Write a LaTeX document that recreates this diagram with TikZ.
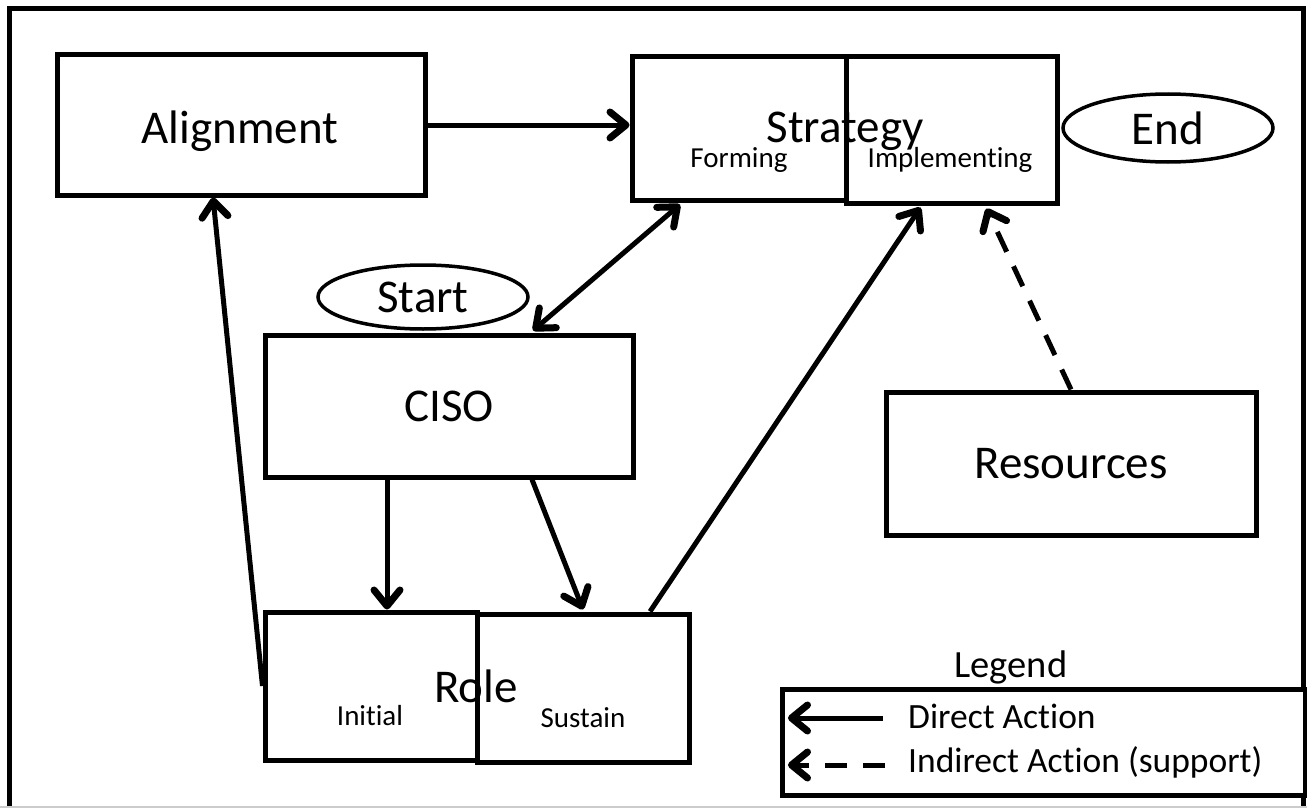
\documentclass[tikz,border=0pt]{standalone}
\usepackage{fontspec}
\setmainfont{Carlito}[Ligatures={NoCommon,NoContextual}]
\usetikzlibrary{arrows.meta,shapes.geometric,calc}

\begin{document}
\begin{tikzpicture}[x=1pt,y=-1pt,>={Straight Barb[length=16pt,width=26pt,line width=7pt,round]}]

    \tikzset{
      box/.style={
        draw,
        line width=5pt,
        fill=white,
        inner sep=0pt,
        anchor=center,
      },
      oval/.style={
        draw,
        ellipse,
        line width=3.5pt,
        inner sep=0pt,
      },
      bigtext/.style={font=\fontsize{47}{56}\selectfont,inner sep=0pt},
      smalltext/.style={font=\fontsize{29}{34}\selectfont,inner sep=0pt},
      legtext/.style={font=\fontsize{35.5}{42}\selectfont,inner sep=0pt},
      direct/.style={line width=5pt},
      indirect/.style={line width=5pt,dash pattern=on 22pt off 16pt},
    }
    \useasboundingbox (0,0) rectangle (1307,808);
    % frame
    \draw[line width=5pt] (9,808) -- (9,9) -- (1303,9) -- (1303,808);
    \draw[gray!40,line width=1.5pt] (0,807) -- (1307,807);

    % boxes
    \node[box,minimum width=368pt,minimum height=140pt] (align) at (241,125) {};
    \node[bigtext,anchor=base] (alignlbl) at (240,143) {Alignment};
    \node[box,minimum width=214pt,minimum height=143pt] (stratform) at (739,128.5) {};
    \node[box,minimum width=211pt,minimum height=146pt] (stratimpl) at (951.5,130) {};
    \node[bigtext,anchor=base] (stratlbl) at (845,142) {Strategy};
    \node[smalltext,anchor=base] (formlbl) at (739,167) {Forming};
    \node[smalltext,anchor=base] (impllbl) at (950,167) {Implementing};
    \node[oval,minimum width=210pt,minimum height=68pt,bigtext] (endnode) at (1168,128) {End};
    \node[oval,minimum width=210pt,minimum height=64pt,bigtext] (startnode) at (423,297) {Start};
    \node[box,minimum width=368pt,minimum height=142pt,bigtext] (ciso) at (449,406) {CISO};
    \node[box,minimum width=370pt,minimum height=143pt,bigtext] (res) at (1071,463.5) {Resources};
    \node[box,minimum width=212pt,minimum height=148pt] (roleinit) at (371,686) {};
    \node[box,minimum width=212pt,minimum height=148pt] (rolesus) at (583,688) {};
    \node[bigtext,anchor=base] (rolelbl) at (476,702) {Role};
    \node[smalltext,anchor=base] (initlbl) at (370,725) {Initial};
    \node[smalltext,anchor=base] (suslbl) at (583,727) {Sustain};

    % legend
    \node[box,minimum width=523pt,minimum height=106pt] (legbox) at (1043.5,742) {};
    \node[legtext,font=\fontsize{38.5}{46}\selectfont,anchor=base] (leglbl) at (1011,677) {Legend};
    \node[legtext,anchor=base west] (dirlbl) at (908,728) {Direct Action};
    \node[legtext,anchor=base west] (indlbl) at (908,772) {Indirect Action (support)};
    \coordinate (dirtail) at (883,718);
    \coordinate (dirhead) at (788,718);
    \coordinate (indtail) at (885,765);
    \coordinate (indhead) at (788,765);
    \draw[direct,->] (dirtail) -- (dirhead);
    \draw[indirect,->] (indtail) -- (indhead);

    % connectors
    \draw[direct,->] (align.east) -- (align.east -| stratform.west);
    \draw[direct,->] (roleinit.west) -- ($(align.south)+(-28,0)$);
    \draw[direct,<->] ($(stratform.south)+(-59,2)$) -- ($(ciso.north)+(84,-2)$);
    \draw[direct,->] ($(ciso.south)+(-62,0)$) -- ($(roleinit.north)+(16,0)$);
    \draw[direct,->] ($(ciso.south)+(83,0)$) -- ($(rolesus.north)+(0,-2)$);
    \draw[direct,->] ($(rolesus.north)+(67,0)$) -- ($(stratimpl.south)+(-31,2)$);
    \draw[indirect,->] (res.north) -- ($(stratimpl.south)+(35,3)$);

\end{tikzpicture}
\end{document}
